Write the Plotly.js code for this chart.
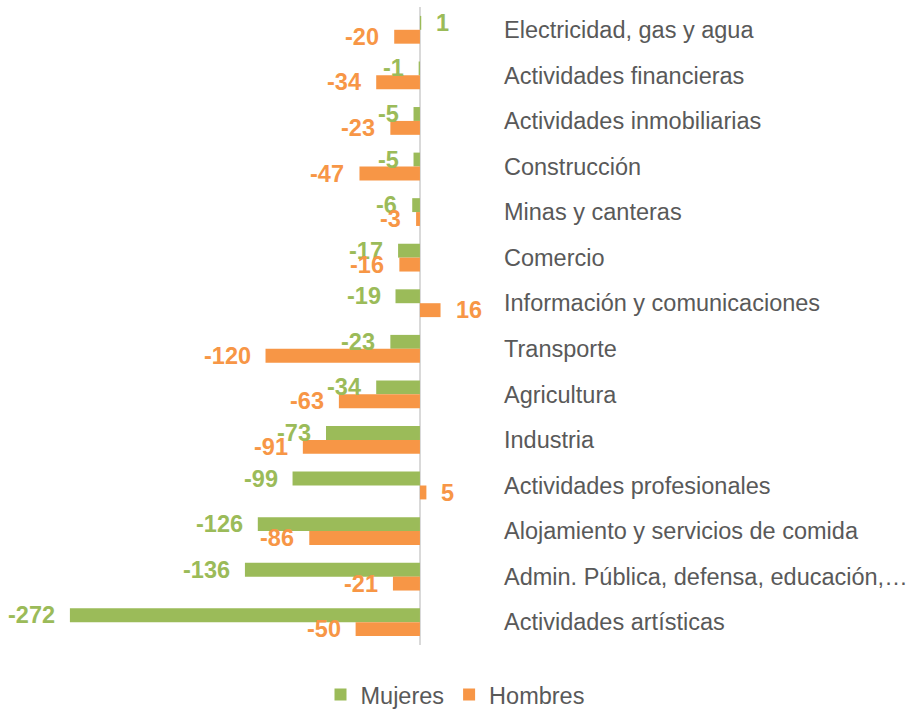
<!DOCTYPE html>
<html><head><meta charset="utf-8">
<script src="https://cdn.plot.ly/plotly-3.0.1.min.js"></script>
<style>html,body{margin:0;padding:0;background:#fff;}#chart{width:910px;height:709px;}</style>
</head><body><div id="chart"></div>
<script>
var categories = [
  "Electricidad, gas y agua",
  "Actividades financieras",
  "Actividades inmobiliarias",
  "Construcción",
  "Minas y canteras",
  "Comercio",
  "Información y comunicaciones",
  "Transporte",
  "Agricultura",
  "Industria",
  "Actividades profesionales",
  "Alojamiento y servicios de comida",
  "Admin. Pública, defensa, educación,…",
  "Actividades artísticas"
];
var mujeres = [1, -1, -5, -5, -6, -17, -19, -23, -34, -73, -99, -126, -136, -272];
var hombres = [-20, -34, -23, -47, -3, -16, 16, -120, -63, -91, 5, -86, -21, -50];

var green = "#9BBB59", orange = "#F79646";
var FONT = "Liberation Sans, Arial, sans-serif";
var FS = 23.5;

function mk(name, vals, color){
  return {
    type: "bar", orientation: "h", name: name,
    x: vals, y: categories,
    marker: {color: color},
    hoverinfo: "x+y"
  };
}
var data = [mk("Mujeres", mujeres, green), mk("Hombres", hombres, orange)];

var annotations = [];
function addLabels(vals, color, yshift){
  vals.forEach(function(v, i){
    annotations.push({
      x: v, y: categories[i], xref: "x", yref: "y",
      text: "<b>" + v + "</b>", showarrow: false,
      xanchor: v < 0 ? "right" : "left", yanchor: "middle",
      xshift: v < 0 ? -13 : 13, yshift: yshift,
      font: {family: FONT, size: FS, color: color}
    });
  });
}
addLabels(mujeres, green, 7);
addLabels(hombres, orange, -7);

var layout = {
  width: 910, height: 709,
  margin: {l: 60, r: 410, t: 7, b: 64},
  paper_bgcolor: "#fff", plot_bgcolor: "#fff",
  barmode: "group", bargap: 0.39, bargroupgap: 0,
  font: {family: FONT, size: FS, color: "#595959"},
  xaxis: {range: [-279.7, 62.2], showgrid: false, showticklabels: false, ticks: "",
          zeroline: true, zerolinecolor: "#D9D9D9", zerolinewidth: 2, showline: false,
          fixedrange: true, automargin: false},
  yaxis: {autorange: "reversed", side: "right", showgrid: false, ticks: "", showline: false,
          zeroline: false, tickfont: {family: FONT, size: FS, color: "#595959"},
          ticklabelstandoff: 3, fixedrange: true, automargin: false},
  annotations: annotations,
  showlegend: true,
  legend: {orientation: "h", xref: "container", yref: "container", x: 0.5, xanchor: "center",
           y: 0.02, yanchor: "middle", font: {family: FONT, size: FS, color: "#595959"},
           traceorder: "normal", itemwidth: 30}
};
Plotly.newPlot("chart", data, layout, {displayModeBar: false, staticPlot: true});
</script></body></html>
